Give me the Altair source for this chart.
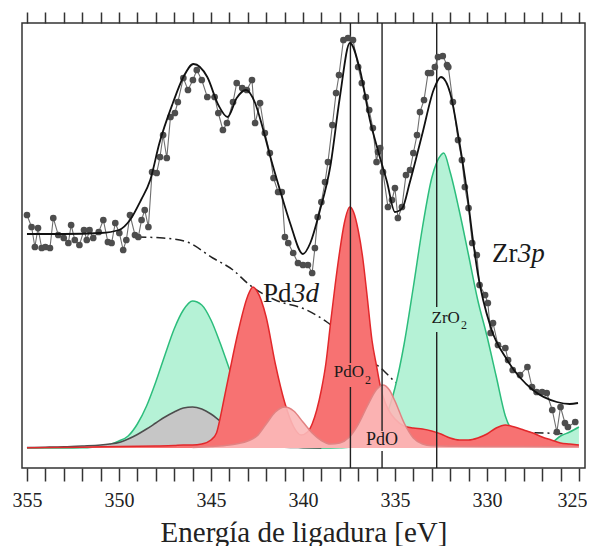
import altair as alt
import pandas as pd

# ---------------- data ----------------
data_E = [355.0, 354.75, 354.57, 354.4, 354.2, 354.0, 353.75, 353.57, 353.3, 353.0, 352.75, 352.6,
          352.4, 352.15, 351.9, 351.75, 351.6, 351.4, 351.1, 350.85, 350.6, 350.4, 350.2, 349.98,
          349.77, 349.6, 349.4, 349.13, 348.95, 348.77, 348.6, 348.4, 348.2, 347.95, 347.77, 347.6,
          347.4, 347.2, 346.96, 346.8, 346.5, 346.25, 345.98, 345.77, 345.5, 345.2, 344.8, 344.6,
          344.35, 344.13, 343.8, 343.6, 343.3, 343.05, 342.77, 342.6, 342.33, 342.07, 341.8, 341.6,
          341.35, 341.15, 340.98, 340.8, 340.53, 340.27, 340.0, 339.73, 339.5, 339.35, 339.2, 339.0,
          338.8, 338.64, 338.4, 338.2, 338.04, 337.8, 337.55, 337.28, 337.0, 336.8, 336.58, 336.4,
          336.2, 336.0, 335.92, 335.8, 335.65, 335.38, 335.16, 335.0, 334.84, 334.62, 334.4, 334.18,
          334.0, 333.8, 333.64, 333.42, 333.2, 333.04, 332.83, 332.66, 332.4, 332.17, 332.1, 331.85,
          331.57, 331.36, 331.2, 331.0, 330.8, 330.55, 330.4, 330.1, 329.95, 329.8, 329.67, 329.4,
          329.0, 328.85, 328.6, 328.2, 327.8, 327.55, 327.3, 327.0, 326.75, 326.45, 326.2, 326.0,
          325.76, 325.6, 325.2]
data_I = [233, 221, 201, 220, 200, 201, 200, 230, 213, 210, 205, 223,
          208, 203, 218, 208, 218, 210, 216, 228, 206, 205, 225, 215,
          198, 208, 233, 213, 211, 228, 238, 221, 276, 275, 291, 313,
          290, 331, 335, 346, 370, 358, 368, 378, 368, 351, 351, 335,
          318, 325, 346, 365, 360, 358, 368, 325, 345, 315, 295, 270,
          256, 256, 211, 205, 195, 185, 183, 183, 175, 200, 231, 246,
          266, 286, 323, 355, 373, 408, 410, 408, 381, 365, 351, 338,
          320, 286, 296, 300, 276, 241, 248, 260, 230, 241, 273, 278,
          295, 313, 336, 348, 375, 375, 381, 391, 392, 383, 381, 346,
          308, 288, 261, 240, 205, 193, 163, 153, 145, 115, 125, 103,
          100, 88, 78, 73, 81, 61, 56, 56, 55, 38, 16, 41,
          25, 21, 26]

env_E = [355, 353, 351, 350, 349.4, 348.8, 348.3, 347.8, 347.07, 346.5, 345.95, 345.2, 344.6,
         344.1, 343.6, 343.1, 342.6, 342.2, 341.8, 341.25, 340.7, 340.0, 339.6, 339.1, 338.5,
         338.0, 337.45, 336.9, 336.36, 335.9, 335.43, 335.0, 334.6, 334.2, 333.5, 332.9, 332.5,
         332.0, 331.5, 331.1, 330.76, 330.5, 329.8, 328.9, 327.5, 326.2, 325.5, 325.05]
env_I = [214, 214, 215, 218, 228, 248, 268, 305, 345, 371, 384, 371, 343,
         331, 350, 358, 345, 321, 293, 258, 225, 194, 205, 236, 283,
         350, 405, 378, 328, 296, 266, 236, 240, 265, 315, 358, 371,
         355, 306, 258, 208, 175, 121, 88, 58, 46, 44, 45]

bg_E = [349.0, 347.6, 346.3, 344.9, 343.8, 342.9, 341.5, 339.8, 338.7, 337.5, 336.5, 335.65,
        335.1, 334.0, 333.0, 332.0, 331.0, 330.0, 328.5, 326.8, 325.5]
bg_I = [211, 210, 206, 190, 178, 163, 148, 138, 126, 108, 90, 78,
        68, 55, 42, 30, 22, 18, 16, 15, 14]

green_E = [355, 353, 352, 351, 350.5, 350, 349.5, 349, 348.5, 348, 347.5, 347, 346.5, 346,
           345.5, 345, 344.5, 344, 343.5, 343, 342.5, 342, 341.5, 341, 340.5, 340, 339, 338,
           337.5, 337, 336.5, 336, 335.5, 335, 334.5, 334, 333.5, 333, 332.5, 332.35, 332,
           331.5, 331, 330.5, 330, 329.5, 329, 328.5, 328, 327.5, 327, 326.5, 326, 325.5, 325]
green_I = [0, 0, 0.2, 1.5, 3.5, 7, 12, 24, 42, 66, 93, 119, 138, 147,
           143, 128, 105, 79, 54, 34, 20, 11, 5, 2.3, 1, 0.4, 0, 0.3,
           0.7, 2, 6, 14, 31, 60, 104, 161, 221, 270, 293, 295, 276,
           237, 193, 148, 112, 72, 32, 13, 5, 2.5, 2.5, 5, 12, 16, 21]

gray_E = [355, 354, 353, 352, 351, 350.5, 350, 349.5, 349, 348.5, 348, 347.5, 347, 346.5,
          346, 345.5, 345, 344.5, 344, 343.5, 343, 342.5, 342, 341.5, 341, 340, 339]
gray_I = [0.5, 0.8, 1.2, 2, 3, 4, 5.5, 9, 13.5, 19, 25, 31, 36, 40,
          41, 39, 34, 27, 20, 14, 9, 5.5, 3, 1.5, 0.8, 0.3, 0]

red_E = [355, 352, 350, 348, 347, 346.5, 346, 345.5, 345, 344.7, 344.5, 344.3, 344, 343.5,
         343, 342.72, 342.5, 342, 341.5, 341, 340.5, 340.1, 339.75, 339.5, 339.25, 339, 338.75,
         338.5, 338.25, 338, 337.75, 337.45, 337.25, 337, 336.75, 336.5, 336.25, 336, 335.75,
         335.5, 335.25, 335, 334.5, 334, 333.5, 333, 332.5, 332, 331.5, 331, 330.5, 330, 329.5,
         329, 328.5, 328, 327.5, 327, 326.5, 326, 325.5, 325]
red_I = [0.3, 0.8, 1.5, 2, 2.5, 3, 3, 4, 8, 15, 30, 48, 75, 118,
         152, 161, 157, 131, 84, 46, 21, 13, 16, 24, 38, 58, 85,
         125, 163, 197, 225, 241, 236, 218, 190, 150, 108, 82, 58,
         44, 35, 29, 22, 20, 19, 17, 14, 10, 8, 8, 10, 14, 20,
         23, 21, 18, 15, 11, 8, 5, 4, 3]

pink_E = [346, 345, 344, 343.5, 343, 342.5, 342, 341.5, 340.98, 340.5, 340, 339.5, 339, 338.5,
          338, 337.5, 337, 336.5, 336, 335.65, 335.3, 335, 334.5, 334, 333.5, 333, 332, 330,
          328, 326, 325]
pink_I = [0.5, 1.5, 3, 4.5, 7, 12, 24, 36, 41, 37, 26, 15, 7.5, 4,
          5, 10.5, 23.5, 42, 58.5, 63, 58, 47, 25, 10, 4, 2.2, 1.8, 1.6,
          1.5, 1.3, 1.2]

# vertical marker lines (broken where the labels sit)
vline_E = [337.42, 337.42, 335.7, 335.7, 332.73, 332.73]
vline_top = [425, 61, 425, -3, 425, 116]
vline_bot = [85, -20, 17, -20, 141, -20]

tick_values = list(range(325, 356))

# ---------------- chart ----------------
FONT = "Liberation Serif"
xscale = alt.Scale(domain=[324.67, 355.27], reverse=True, nice=False, zero=False)
yscale = alt.Scale(domain=[-20, 425], nice=False, zero=False)

bottom_axis = alt.Axis(orient="bottom", values=tick_values,
                       labelExpr="datum.value % 5 == 0 ? datum.label : ''",
                       labelOffset={"condition": {"test": "datum.value == 325", "value": -7},
                                    "value": 0},
                       tickSize=13, tickWidth=1.5, tickColor="#333",
                       labelFont=FONT, labelFontSize=20, labelColor="#222", labelPadding=9,
                       labelOverlap=False, labelFlush=False,
                       title="Energía de ligadura [eV]", titleFont=FONT, titleFontSize=29,
                       titleFontWeight="normal", titleColor="#222", titlePadding=8,
                       domain=False, grid=False)
top_axis = alt.Axis(orient="top", values=tick_values, labels=False,
                    tickSize=11, tickWidth=1.5, tickColor="#333",
                    domain=False, grid=False, title="")


def xenc(axis=None):
    if axis is None:
        return alt.X("E:Q", scale=xscale, axis=None)
    return alt.X("E:Q", scale=xscale, axis=axis)


Y = alt.Y("I:Q", scale=yscale, axis=None)

bg_df = pd.DataFrame({"E": bg_E, "I": bg_I})
bg = alt.Chart(bg_df).mark_line(color="#222", strokeWidth=1.5, strokeDash=[9, 4, 2, 4],
                                interpolate="monotone").encode(x=xenc(bottom_axis), y=Y)


def comp(E, I, fill, stroke, opacity=1.0, axis=None):
    df = pd.DataFrame({"E": E, "I": I})
    return alt.Chart(df).mark_area(color=fill, opacity=opacity, interpolate="monotone",
                                   line={"color": stroke, "strokeWidth": 1.5}).encode(
        x=xenc(axis), y=Y)


green = comp(green_E, green_I, "#b5f2d6", "#2cbd7c", axis=top_axis)
gray = comp(gray_E, gray_I, "#c6c6c6", "#4d4d4d")
red = comp(red_E, red_I, "#f77272", "#e2282b")
pink = comp(pink_E, pink_I, "#fbb9b9", "#e28282", opacity=0.9)

vl_df = pd.DataFrame({"E": vline_E, "top": vline_top, "bot": vline_bot})
vlines = alt.Chart(vl_df).mark_rule(color="#222", strokeWidth=1.4).encode(
    x=xenc(), y=alt.Y("top:Q", scale=yscale, axis=None), y2="bot:Q")


def label(E, I, text, size, align="left", baseline="alphabetic", style="normal"):
    df = pd.DataFrame({"E": [E], "I": [I], "t": [text]})
    return alt.Chart(df).mark_text(font=FONT, fontSize=size, align=align, baseline=baseline,
                                   fontStyle=style, color="#1a1a1a").encode(
        x=xenc(), y=Y, text="t:N")


labels = [
    label(342.17, 146, "Pd", 27),
    label(340.6, 146, "3d", 27, style="italic"),
    label(329.73, 186, "Zr", 27),
    label(328.32, 186, "3p", 27, style="italic"),
    label(336.68, 76, "PdO", 17, align="right", baseline="middle"),
    label(336.63, 68, "2", 12, baseline="middle"),
    label(331.47, 130, "ZrO", 17, align="right", baseline="middle"),
    label(331.41, 123, "2", 12, baseline="middle"),
    label(335.71, 8, "PdO", 18, align="center", baseline="middle"),
]

pts_df = pd.DataFrame({"E": data_E, "I": data_I})
data_line = alt.Chart(pts_df).mark_line(color="#6e6e6e", strokeWidth=1.1).encode(x=xenc(), y=Y)
data_pts = alt.Chart(pts_df).mark_point(filled=True, color="#4d4d4d", size=45, opacity=1).encode(
    x=xenc(), y=Y)

env_df = pd.DataFrame({"E": env_E, "I": env_I})
envelope = alt.Chart(env_df).mark_line(color="#111", strokeWidth=1.8,
                                       interpolate="monotone").encode(x=xenc(), y=Y)

chart = alt.layer(
    bg, green, gray, red, pink, vlines, *labels, data_line, data_pts, envelope
).resolve_axis(x="independent").properties(
    width=563, height=445,
    autosize=alt.AutoSizeParams(type="none"),
    padding={"left": 14, "top": 15, "right": 2, "bottom": 78},
).configure_view(stroke="#333", strokeWidth=1.5).configure_axis(
    labelFont=FONT, titleFont=FONT
)

chart.save("out.html", embed_options={"renderer": "svg", "actions": False})
